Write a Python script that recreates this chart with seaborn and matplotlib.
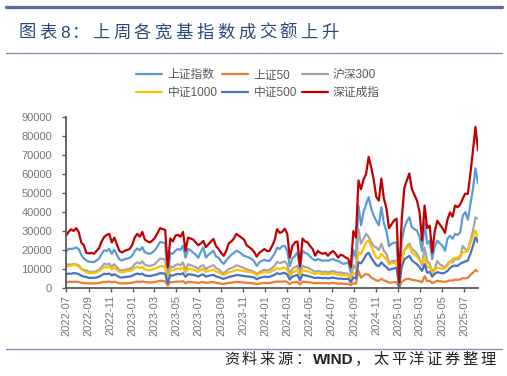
import re
import pandas as pd
import matplotlib.pyplot as plt
import matplotlib.dates as mdates
from matplotlib.lines import Line2D
import seaborn as sns

W, H = 507, 376

# weekly turnover (亿元), 2022-07-01 .. 2025-08-08
dates = pd.date_range('2022-07-01', '2025-08-08', freq='W-FRI')

names = ['上证指数', '上证50', '沪深300', '中证1000', '中证500', '深证成指']
colors = ['#5B9BD5', '#ED7D31', '#A5A5A5', '#FFC000', '#4472C4', '#C00000']

szcz = [27500, 29500, 30900, 30000, 31500, 29500, 24000, 22500, 18500, 18200,
        18500, 18000, 19500, 21000, 24500, 26800, 28000, 28500, 24000, 26500,
        23000, 19500, 18700, 19500, 20000, 20500, 22500, 26500, 28500, 27000,
        29500, 25500, 24500, 24000, 25000, 26500, 29000, 31500, 31000, 30500,
        11000, 26000, 24500, 27500, 28000, 27000, 29500, 19500, 26500, 26000,
        25500, 24000, 22500, 23500, 24800, 21500, 23000, 24500, 25800, 22000,
        20500, 18500, 16900, 19500, 23500, 24500, 26000, 28500, 27500, 26500,
        25500, 22500, 21500, 20500, 19000, 16500, 18500, 19500, 20500, 19500,
        19500, 22000, 25000, 31000, 29000, 29500, 31200, 28500, 16000, 22000,
        24000, 24500, 11500, 26000, 24500, 24000, 22000, 20500, 17000, 19500,
        18500, 18000, 18500, 17000, 18500, 19500, 18000, 16000, 17500, 17000,
        16000, 15300, 11000,
        30000, 26600, 56600, 52000, 57000, 60000, 69000, 63500, 57000, 48000,
        46000, 57600, 47000, 42000, 31500, 33500, 35500, 36500, 3000, 36000,
        52400, 56500, 60300, 52000, 49000, 46000, 40000, 25000, 43400, 31500,
        32800, 18700, 30000, 35400, 33500, 31500, 29000, 36000, 39800, 37500,
        43400, 42500, 44000, 47000, 49700, 49500, 60000, 72000, 84800, 72500]

shzs = [19000, 20700, 20500, 20800, 21300, 20500, 17500, 15500, 14600, 13800,
        13800, 13600, 14500, 15500, 18000, 19800, 19500, 20600, 18000, 20200,
        17500, 15000, 14500, 15200, 15500, 15800, 17000, 19500, 20800, 19800,
        21500, 18800, 18200, 18000, 18800, 20000, 22000, 24200, 24000, 23500,
        5000, 18500, 18000, 19600, 20500, 20000, 22200, 16000, 20600, 19800,
        18700, 17500, 15900, 19000, 21300, 16000, 17500, 18500, 19600, 16500,
        16000, 14000, 12700, 14500, 16000, 17500, 18500, 19600, 19000, 18000,
        16900, 16500, 16000, 15300, 14000, 11600, 13500, 14300, 14800, 14300,
        14300, 16000, 18000, 21300, 20500, 22000, 22200, 19600, 11600, 15500,
        16900, 18700, 10000, 19600, 18500, 18000, 16500, 15300, 14500, 15300,
        14800, 14300, 14500, 14300, 14800, 15300, 14500, 14300, 13500, 12700,
        13000, 13400, 8100,
        20000, 16000, 43400, 33000, 40000, 44000, 47800, 42000, 38000, 35400,
        33000, 42500, 34000, 30000, 22000, 23300, 23800, 24000, 2000, 25000,
        31500, 35000, 37200, 32000, 31000, 30200, 27000, 19600, 34500, 23300,
        24900, 15300, 22000, 24900, 23500, 22200, 19600, 26000, 27500, 25900,
        28500, 28000, 29300, 38000, 40000, 36000, 44000, 52000, 63000, 55000]

sz50 = [3000, 3200, 3300, 3200, 3300, 3100, 2800, 2600, 2500, 2400,
        2400, 2400, 2500, 2600, 3000, 3200, 3200, 3400, 3000, 3300,
        2900, 2500, 2400, 2500, 2500, 2600, 2800, 3100, 3400, 3200,
        3500, 3100, 3000, 2900, 3000, 3200, 3500, 3800, 3700, 3500,
        1200, 3200, 3000, 3300, 3400, 3300, 3600, 2500, 3200, 3100,
        3000, 2900, 2600, 3000, 3200, 2700, 2900, 3000, 3100, 2700,
        2600, 2300, 2100, 2400, 2700, 2800, 3000, 3200, 3100, 3000,
        2900, 2700, 2600, 2500, 2400, 2000, 2300, 2500, 2700, 2600,
        2600, 2900, 3100, 3400, 3300, 3400, 3500, 3200, 2000, 2900,
        3100, 3300, 1800, 3400, 3200, 3100, 2900, 2700, 2500, 2700,
        2600, 2500, 2600, 2400, 2500, 2700, 2500, 2300, 2400, 2300,
        2200, 2200, 1500,
        2500, 2200, 9000, 5500, 6500, 7400, 7000, 5500, 4800, 4000,
        3800, 4800, 4000, 3600, 2800, 2900, 3000, 3000, 300, 3200,
        4200, 4800, 4800, 4300, 4100, 3900, 3600, 3000, 6300, 3600,
        3800, 2600, 3200, 3800, 3600, 3400, 3200, 3700, 4000, 3900,
        4400, 4300, 4500, 5200, 5000, 5400, 6800, 8000, 9500, 8600]

hs300 = [11800, 12500, 12300, 12600, 12400, 11900, 10200, 9500, 9300, 8500,
         8600, 8400, 9000, 9600, 11000, 12800, 12300, 12800, 11200, 12600,
         11000, 9500, 9200, 9500, 9800, 10000, 10800, 12500, 13500, 12800,
         14000, 12200, 11800, 11600, 12000, 12700, 14000, 15500, 15300, 15000,
         3500, 11500, 10800, 12000, 12500, 12000, 13500, 9500, 12500, 12000,
         11500, 11000, 10000, 11500, 12000, 10000, 10800, 11500, 12000, 10500,
         9800, 8500, 7800, 8800, 10000, 10500, 11000, 12000, 11500, 11000,
         10500, 9800, 9500, 9000, 8500, 7300, 8300, 9000, 9600, 9300,
         9500, 10500, 11500, 13900, 13000, 13500, 14000, 12500, 7500, 10000,
         11000, 11500, 6500, 11800, 11000, 10800, 10000, 9300, 8500, 9000,
         8700, 8500, 8700, 8300, 8600, 9000, 8500, 8000, 8200, 7800,
         7600, 7500, 5000,
         12000, 10000, 31000, 23300, 26000, 28500, 27000, 24000, 22000, 21300,
         20000, 23300, 19500, 18000, 13400, 14000, 14300, 14300, 1500, 15000,
         19600, 22000, 23300, 20500, 19600, 18000, 15300, 12000, 21300, 14000,
         12700, 8500, 10000, 14300, 12500, 11600, 10500, 12700, 14000, 13500,
         15300, 15000, 16000, 22200, 20500, 19600, 24900, 30000, 37200, 36500]

zz1000 = [10800, 11600, 11800, 12300, 12000, 11300, 10000, 9000, 8400, 7800,
          8000, 7900, 8300, 8800, 10000, 11000, 10800, 11200, 9800, 10800,
          9600, 8500, 8200, 8500, 8800, 9000, 9500, 10500, 11200, 10600,
          11000, 9800, 9500, 9400, 9800, 10200, 10800, 11500, 11400, 11000,
          3000, 9500, 9200, 10000, 10300, 10000, 10800, 8000, 10200, 10000,
          9700, 9300, 8500, 9500, 10000, 8500, 9000, 9300, 9600, 8600,
          8200, 7300, 6800, 7500, 8200, 8600, 9000, 9600, 9400, 9100,
          8900, 8600, 8500, 8300, 7800, 6500, 7500, 8000, 8500, 8200,
          8300, 9000, 9600, 10500, 10000, 10500, 10800, 9800, 6000, 8200,
          8800, 9500, 5500, 9500, 9000, 8800, 8300, 7800, 7300, 7800,
          7500, 7300, 7500, 7200, 7500, 7800, 7300, 7000, 7000, 6600,
          6700, 6800, 4000,
          8000, 7000, 18700, 18000, 21000, 24000, 25000, 22000, 19000, 16000,
          15500, 18000, 16500, 15000, 12500, 13000, 13200, 13400, 1500, 14000,
          19600, 21000, 22200, 18700, 17500, 16500, 14500, 12700, 16000, 10700,
          11500, 7400, 9500, 10700, 10500, 10000, 10300, 11600, 13500, 15300,
          15800, 16000, 17000, 18700, 19000, 19600, 23300, 27000, 30200, 25900]

zz500 = [7200, 7600, 7500, 7800, 7700, 7300, 6500, 6000, 5800, 5300,
         5400, 5300, 5600, 5900, 6700, 7500, 7300, 7600, 6600, 7300,
         6500, 5700, 5500, 5700, 5900, 6000, 6400, 7100, 7600, 7200,
         7500, 6600, 6400, 6300, 6600, 6900, 7300, 7800, 7700, 7500,
         2500, 6800, 6500, 7100, 7400, 7200, 7800, 5800, 7300, 7100,
         6900, 6600, 6000, 6800, 7200, 6000, 6400, 6700, 6900, 6100,
         5800, 5200, 4800, 5300, 5800, 6100, 6400, 6900, 6700, 6500,
         6300, 6100, 6000, 5800, 5500, 4600, 5300, 5600, 6000, 5800,
         5900, 6400, 6900, 7800, 7400, 7700, 7900, 7100, 4400, 6000,
         6400, 6900, 4000, 7000, 6600, 6400, 6000, 5600, 5200, 5500,
         5300, 5200, 5300, 5100, 5300, 5500, 5200, 4900, 5000, 4700,
         4800, 4800, 3000,
         5500, 5000, 13500, 13000, 15000, 17500, 18500, 16000, 14000, 12000,
         11500, 13500, 12000, 11000, 9500, 10000, 10300, 10700, 1000, 11000,
         15000, 16000, 16900, 14500, 13500, 12500, 11000, 9000, 12500, 8000,
         8500, 6000, 7500, 8300, 8000, 7700, 8100, 9000, 10500, 11500,
         11800, 11600, 12800, 13400, 14000, 14500, 18000, 22000, 26600, 24000]

title = '图表8：上周各宽基指数成交额上升'
source = '资料来源：WIND，太平洋证券整理'

sns.set_theme(style='ticks')
plt.rcParams['font.family'] = ['Liberation Sans', 'Noto Sans CJK SC']

fig = plt.figure(figsize=(W / 100, H / 100), dpi=100)
fig.patch.set_facecolor('white')
ax = fig.add_axes([66 / W, 1 - 288 / H, (478 - 66) / W, (288 - 117) / H])

df = pd.DataFrame({'date': dates, '上证指数': shzs, '上证50': sz50, '沪深300': hs300,
                   '中证1000': zz1000, '中证500': zz500, '深证成指': szcz})
long = df.melt(id_vars='date', var_name='指数', value_name='成交额')

sns.lineplot(data=long, x='date', y='成交额', hue='指数', hue_order=names,
             palette=colors, linewidth=1.6, ax=ax, legend=False)

ax.set_xlim(dates[0], dates[-1])
ax.set_ylim(0, 90000)
ax.set_yticks(range(0, 90001, 10000))
ax.xaxis.set_major_locator(mdates.MonthLocator(bymonth=[1, 3, 5, 7, 9, 11]))
ax.xaxis.set_major_formatter(mdates.DateFormatter('%Y-%m'))
ax.set_xlabel('')
ax.set_ylabel('')

for side in ['top', 'right']:
    ax.spines[side].set_visible(False)
for side in ['left', 'bottom']:
    ax.spines[side].set_color('#595959')
    ax.spines[side].set_linewidth(1.3)

ax.tick_params(axis='y', length=3, width=1, color='#595959', pad=7,
               labelsize=8, labelcolor='#767676')
ax.tick_params(axis='x', length=3, width=1, color='#595959', pad=2,
               labelsize=8, labelcolor='#767676', labelrotation=90)

# legend: 3 columns, row-major like the original
order = [0, 3, 1, 4, 2, 5]
handles = [Line2D([], [], color=colors[i], lw=1.6) for i in order]
labels = [names[i] for i in order]
fig.legend(handles, labels, loc='center', bbox_to_anchor=(258 / W, 1 - 84 / H),
           ncol=3, frameon=False, fontsize=8.5, handlelength=2.2,
           handletextpad=0.45, columnspacing=0.4, labelspacing=0.5,
           labelcolor='#595959')


def spaced(x, y, s, full, half, bold_ascii=False, **kw):
    # draw text piece by piece to get the wide letter spacing of the original
    for tok in re.findall(r'[A-Za-z0-9]+|.', s):
        weight = 'bold' if (bold_ascii and tok.isascii()) else 'normal'
        fig.text(x / W, 1 - y / H, tok, va='center', ha='left', weight=weight, **kw)
        x += full if ord(tok[0]) > 127 else half * len(tok)


spaced(19, 33, title, 20.8, 11, fontsize=12.5, color='#2B4A7A')
spaced(224, 360, source, 17.8, 10.6, bold_ascii=True, fontsize=11, color='#222222')

# frame lines of the report page
fig.add_artist(Line2D([6 / W, 502 / W], [1 - 6.7 / H, 1 - 6.7 / H], color='#5E6A9C', lw=2.4))
fig.add_artist(Line2D([6 / W, 502 / W], [1 - 53.3 / H, 1 - 53.3 / H], color='#7F86B5', lw=0.9))
fig.add_artist(Line2D([6 / W, 502 / W], [1 - 349.3 / H, 1 - 349.3 / H], color='#7F86B5', lw=0.9))

fig.savefig('out.png', dpi=100)
